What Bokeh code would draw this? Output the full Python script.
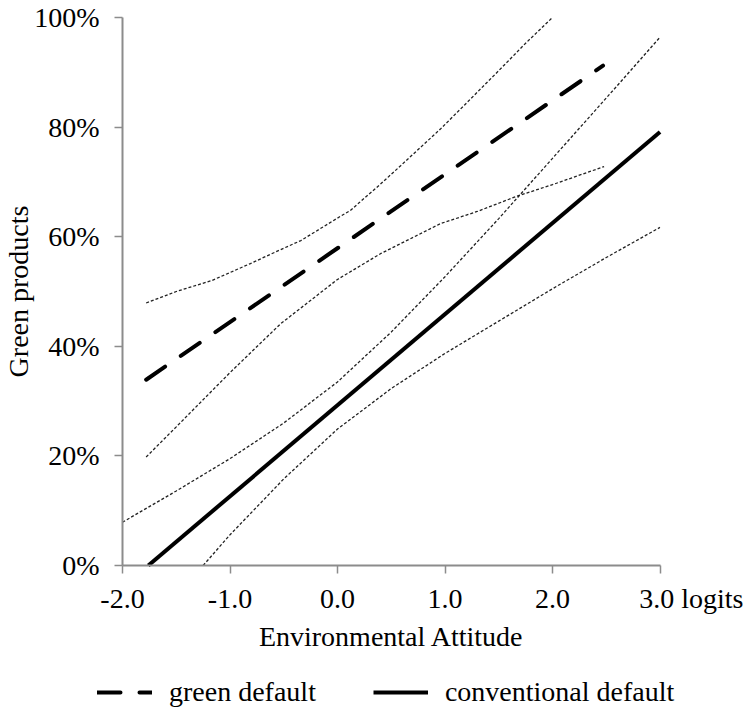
from bokeh.plotting import figure
from bokeh.models import (Range1d, FixedTicker, PrintfTickFormatter, Legend,
                          LegendItem)
from bokeh.embed import file_html
from bokeh.resources import INLINE

# ---- data ----
x_ticks = [-2, -1, 0, 1, 2, 3]
x_tick_labels = ["-2.0", "-1.0", "0.0", "1.0", "2.0", "3.0"]
x_unit = "logits"
y_ticks = [0, 20, 40, 60, 80, 100]

green_x = [-1.78, 2.47]
green_y = [33.9, 91.2]
conv_x = [-1.76, 3.0]
conv_y = [0.0, 79.1]

green_upper_x = [-1.78, -1.5, -1.17, -0.81, -0.5, -0.34, 0.0, 0.12, 0.4, 0.59, 0.96, 1.18, 1.5, 1.75, 2.0]
green_upper_y = [47.9, 50.0, 52.0, 55.1, 57.9, 59.3, 63.4, 64.8, 69.6, 73.0, 79.7, 84.0, 90.3, 95.3, 100.0]
green_lower_x = [-1.78, -1.5, -1.0, -0.53, 0.0, 0.4, 0.96, 1.3, 1.67, 2.0, 2.48]
green_lower_y = [19.8, 25.3, 35.2, 44.1, 52.2, 56.9, 62.4, 64.6, 67.4, 69.5, 72.8]

conv_upper_x = [-2.0, -1.5, -1.0, -0.5, 0.0, 0.5, 1.0, 1.5, 2.0, 2.5, 3.0]
conv_upper_y = [7.9, 13.6, 19.5, 26.0, 33.5, 42.6, 52.7, 63.3, 74.3, 85.3, 96.4]
conv_lower_x = [-1.25, -1.0, -0.5, 0.0, 0.5, 1.0, 1.5, 2.0, 2.5, 3.0]
conv_lower_y = [0.0, 5.6, 15.8, 24.9, 32.3, 38.7, 44.6, 50.5, 56.2, 61.7]

series_labels = ["green default", "conventional default"]

# ---- layout (pixels) ----
W, H = 743, 708
AX_L, AX_R = 122.0, 659.5      # screen x of x = -2 and x = 3
AX_T, AX_B = 17.0, 565.0       # screen y of 100% and 0%
X0, X1 = x_ticks[0], x_ticks[-1]
Y0, Y1 = y_ticks[0], y_ticks[-1]
sx = (AX_R - AX_L) / (X1 - X0)
sy = (AX_B - AX_T) / (Y1 - Y0)

FONT = "Liberation Serif"
FS = "28px"
AXIS_COLOR = "#8c8c8c"

p = figure(width=W, height=H, output_backend="svg", toolbar_location=None,
           x_range=Range1d(X0 - AX_L / sx, X1 + (W - AX_R) / sx),
           y_range=Range1d(Y0 - (H - AX_B) / sy, Y1 + AX_T / sy),
           min_border_left=0, min_border_right=0, min_border_top=0,
           min_border_bottom=0)
p.outline_line_color = None
p.xgrid.visible = False
p.ygrid.visible = False
p.background_fill_color = "white"
p.border_fill_color = "white"

for ax in (p.xaxis, p.yaxis):
    ax.axis_line_color = AXIS_COLOR
    ax.axis_line_width = 2
    ax.major_tick_line_color = AXIS_COLOR
    ax.major_tick_line_width = 1.5
    ax.major_tick_out = 8
    ax.major_tick_in = 0
    ax.minor_tick_line_color = None
    ax.major_label_text_font = FONT
    ax.major_label_text_font_size = FS
    ax.major_label_text_color = "black"
    ax.axis_label_text_font = FONT
    ax.axis_label_text_font_size = FS
    ax.axis_label_text_font_style = "normal"
    ax.axis_label_text_color = "black"

# last tick label carries the unit; invisible padding keeps "3.0" centred on its tick
unit_part = "\u00a0" + x_unit
pad = "\u2003\u2003\u2002"
overrides = {t: lab for t, lab in zip(x_ticks, x_tick_labels)}
overrides[x_ticks[-1]] = pad + x_tick_labels[-1] + unit_part
p.xaxis.fixed_location = Y0
p.xaxis.bounds = (X0, X1)
p.xaxis.ticker = FixedTicker(ticks=x_ticks)
p.xaxis.major_label_overrides = overrides
p.xaxis.major_label_standoff = 9
p.xaxis.axis_label = "Environmental Attitude"
p.xaxis.axis_label_standoff = 4

p.yaxis.fixed_location = X0
p.yaxis.bounds = (Y0, Y1)
p.yaxis.ticker = FixedTicker(ticks=y_ticks)
p.yaxis.formatter = PrintfTickFormatter(format="%d%%")
p.yaxis.major_label_standoff = 15
p.yaxis.axis_label = "Green products"
p.yaxis.axis_label_standoff = -3

ci_style = dict(line_color="#222222", line_width=1.3, line_dash="3 2")
p.line(green_upper_x, green_upper_y, **ci_style)
p.line(green_lower_x, green_lower_y, **ci_style)
p.line(conv_upper_x, conv_upper_y, **ci_style)
p.line(conv_lower_x, conv_lower_y, **ci_style)

g = p.line(green_x, green_y, line_color="black", line_width=4,
           line_dash="23 19", line_cap="round")
c = p.line(conv_x, conv_y, line_color="black", line_width=4)

legend = Legend(items=[LegendItem(label=series_labels[0], renderers=[g]),
                       LegendItem(label=series_labels[1], renderers=[c])],
                orientation="horizontal", location=(97, 0),
                glyph_width=55, glyph_height=28, label_standoff=17, spacing=57,
                padding=0, margin=0, border_line_alpha=0, background_fill_alpha=0,
                label_text_font=FONT, label_text_font_size=FS,
                label_text_color="black")
p.add_layout(legend, "center")

open("out.html", "w").write(file_html(p, INLINE))
